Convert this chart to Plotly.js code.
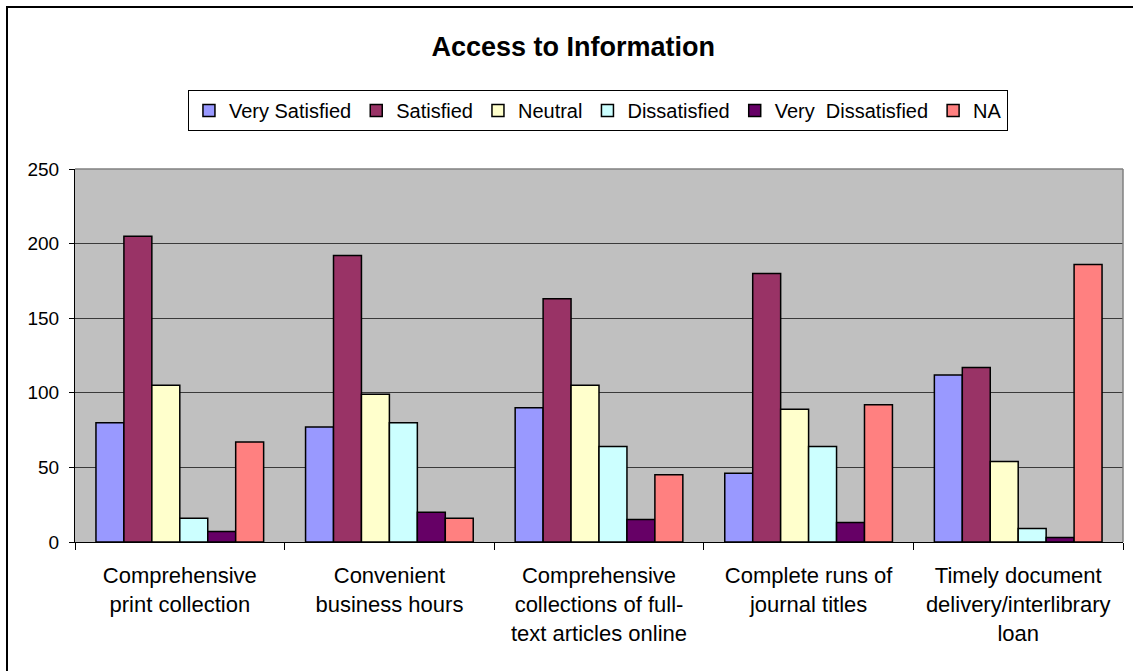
<!DOCTYPE html>
<html>
<head>
<meta charset="utf-8">
<script src="https://cdn.plot.ly/plotly-3.0.1.min.js"></script>
<style>
  html, body { margin: 0; padding: 0; background: #fff; }
  #chart { width: 1133px; height: 671px; position: absolute; left: 0; top: 0; }
  #frame { position: absolute; left: 6px; top: 6px; width: 1400px; height: 900px;
           border: 2.5px solid #000; pointer-events: none; z-index: 10; }
  #wrap { position: relative; width: 1133px; height: 671px; overflow: hidden; }
</style>
</head>
<body>
<div id="wrap">
  <div id="chart"></div>
  <div id="frame"></div>
</div>
<script>
const categories = [
  "Comprehensive<br>print collection",
  "Convenient<br>business hours",
  "Comprehensive<br>collections of full-<br>text articles online",
  "Complete runs of<br>journal titles",
  "Timely document<br>delivery/interlibrary<br>loan"
];
const seriesNames = ["Very Satisfied", "Satisfied", "Neutral", "Dissatisfied", "Very  Dissatisfied", "NA"];
const verySatisfied    = [80, 77, 90, 46, 112];
const satisfied        = [205, 192, 163, 180, 117];
const neutral          = [105, 99, 105, 89, 54];
const dissatisfied     = [16, 80, 64, 64, 9];
const veryDissatisfied = [7, 20, 15, 13, 3];
const na               = [67, 16, 45, 92, 186];
const yTicks = [0, 50, 100, 150, 200, 250];

const seriesValues = [verySatisfied, satisfied, neutral, dissatisfied, veryDissatisfied, na];
const colors = ["#9999ff", "#993366", "#ffffcc", "#ccffff", "#660066", "#ff8080"];

const traces = seriesValues.map((vals, i) => ({
  type: "bar",
  name: seriesNames[i].replace("  ", "&nbsp; "),
  x: categories,
  y: vals,
  marker: { color: colors[i], line: { color: "#000", width: 1.5 } },
  hoverinfo: "y+name"
}));

const layout = {
  width: 1133, height: 671,
  margin: { l: 75, r: 10, t: 169, b: 129 },
  paper_bgcolor: "#ffffff",
  plot_bgcolor: "#c0c0c0",
  font: { family: "Liberation Sans, Arial, sans-serif", color: "#000" },
  title: {
    text: "<b>Access to Information</b>",
    font: { size: 27, family: "Liberation Sans, Arial, sans-serif", color: "#000" },
    x: 0.506, xref: "container", xanchor: "center",
    y: 0.93, yref: "container", yanchor: "middle"
  },
  barmode: "group",
  bargap: 0.2,
  bargroupgap: 0,
  showlegend: true,
  legend: {
    orientation: "h",
    x: 0.499, xanchor: "center",
    y: 1.212, yanchor: "top",
    bgcolor: "#ffffff",
    bordercolor: "#000",
    borderwidth: 1,
    font: { size: 20, family: "Liberation Sans, Arial, sans-serif", color: "#000" },
    traceorder: "normal",
    itemwidth: 30,
    tracegroupgap: 0
  },
  xaxis: {
    type: "category",
    showline: true, linecolor: "#000", linewidth: 1,
    ticks: "outside", tickson: "boundaries", ticklen: 7, tickcolor: "#000", tickwidth: 1,
    tickfont: { size: 22, color: "#000" },
    ticklabelstandoff: 14,
    showgrid: false,
    fixedrange: true
  },
  yaxis: {
    range: [0, 250],
    tickvals: yTicks,
    ticktext: yTicks.map(String),
    showline: true, linecolor: "#000", linewidth: 1,
    ticks: "outside", ticklen: 5, tickcolor: "#000", tickwidth: 1,
    tickfont: { size: 19, color: "#000" },
    ticklabelstandoff: 6,
    showgrid: true, gridcolor: "#3a3a3a", gridwidth: 1,
    zeroline: false,
    fixedrange: true
  },
  shapes: [
    { type: "line", xref: "paper", yref: "paper", x0: 0, x1: 1, y0: 1, y1: 1,
      line: { color: "#808080", width: 1.5 }, layer: "above" },
    { type: "line", xref: "paper", yref: "paper", x0: 1, x1: 1, y0: 0, y1: 1,
      line: { color: "#808080", width: 1.5 }, layer: "above" }
  ]
};

Plotly.newPlot("chart", traces, layout, { displayModeBar: false });
</script>
</body>
</html>
